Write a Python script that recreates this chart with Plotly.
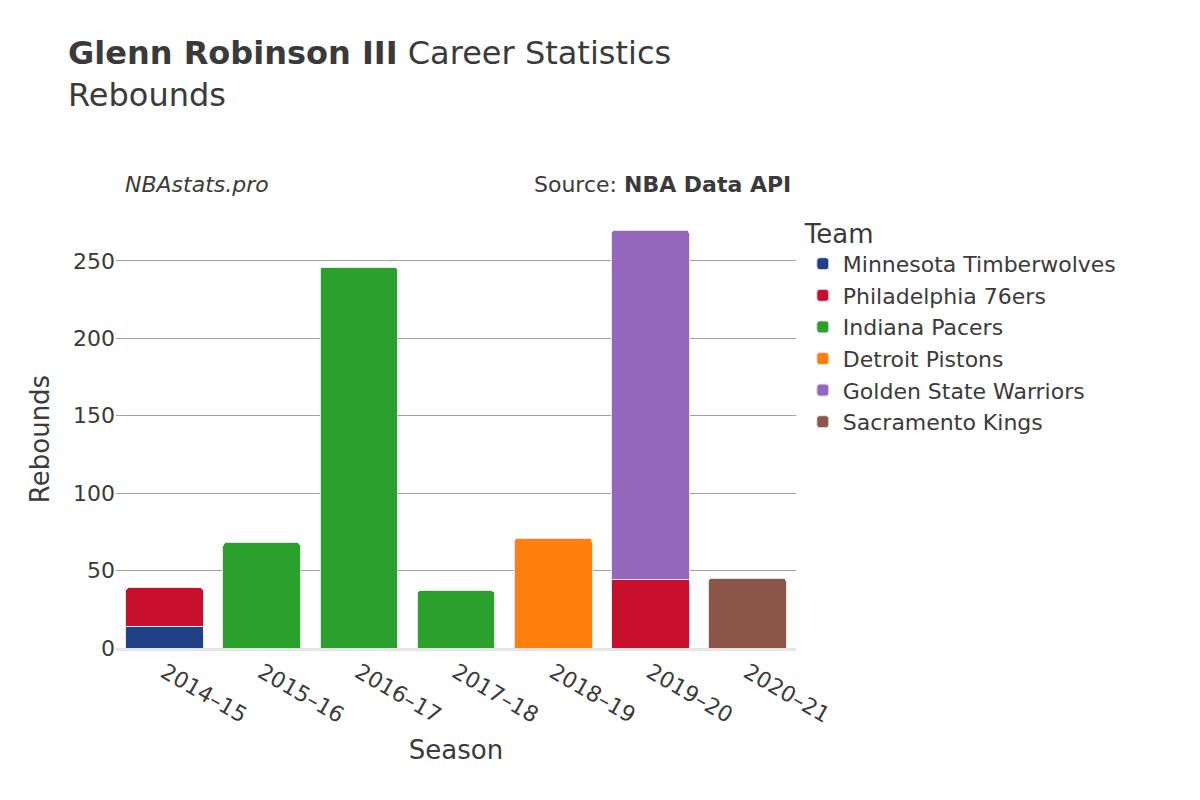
import plotly.graph_objects as go

seasons = ["2014–15", "2015–16", "2016–17", "2017–18", "2018–19", "2019–20", "2020–21"]
teams = ["Minnesota Timberwolves", "Philadelphia 76ers", "Indiana Pacers",
         "Detroit Pistons", "Golden State Warriors", "Sacramento Kings"]
colors = ["#1f4287", "#c8102e", "#2ca02c", "#ff7f0e", "#9467bd", "#8c564b"]
rebounds = {
    "Minnesota Timberwolves": [14, None, None, None, None, None, None],
    "Philadelphia 76ers": [25, None, None, None, None, 44, None],
    "Indiana Pacers": [None, 68, 246, 37, None, None, None],
    "Detroit Pistons": [None, None, None, None, 71, None, None],
    "Golden State Warriors": [None, None, None, None, None, 226, None],
    "Sacramento Kings": [None, None, None, None, None, None, 45],
}

fig = go.Figure()
for team, color in zip(teams, colors):
    fig.add_trace(go.Bar(
        x=seasons, y=rebounds[team], name=team,
        marker=dict(color=color, cornerradius=4, line=dict(color="#e5e5e5", width=1)),
    ))

fig.update_layout(
    barmode="stack",
    width=1200, height=800,
    template="plotly_white",
    font=dict(family="DejaVu Sans, sans-serif", size=22, color="#3a3a3a"),
    margin=dict(l=108, r=412, t=222, b=160),
    title=dict(
        text="<b>Glenn Robinson III</b> Career Statistics<br>Rebounds",
        x=0.05, xanchor="left", y=0.93, yanchor="top",
        font=dict(size=32, color="#3a3a3a"),
    ),
    bargap=0.2,
    legend=dict(
        title=dict(text="Team", font=dict(size=26)),
        traceorder="normal",
        x=1.01, y=1.05, yanchor="top", font=dict(size=22),
    ),
    xaxis=dict(title=dict(text="Season", font=dict(size=26)), tickangle=30,
               showline=True, linecolor="#e5e5e5", linewidth=3),
    yaxis=dict(title=dict(text="Rebounds", font=dict(size=26)), range=[0, 270],
               gridcolor="#a0a0a0", zeroline=False, tickvals=[0, 50, 100, 150, 200, 250]),
    annotations=[
        dict(text="<i>NBAstats.pro</i>", x=0.01, y=1.11, xref="paper", yref="paper",
             xanchor="left", yanchor="middle", showarrow=False, font=dict(size=22)),
        dict(text="Source: <b>NBA Data API</b>", x=0.995, y=1.11, xref="paper", yref="paper",
             xanchor="right", yanchor="middle", showarrow=False, font=dict(size=22)),
    ],
)

fig.write_html("out.html")
